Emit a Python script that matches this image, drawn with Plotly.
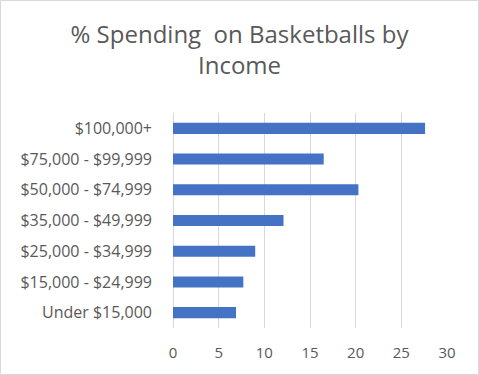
import plotly.graph_objects as go

categories = ["Under $15,000", "$15,000 - $24,999", "$25,000 - $34,999", "$35,000 - $49,999",
              "$50,000 - $74,999", "$75,000 - $99,999", "$100,000+"]
values = [6.9, 7.7, 9.0, 12.1, 20.3, 16.5, 27.6]
x_ticks = [0, 5, 10, 15, 20, 25, 30]
title_text = "% Spending  on Basketballs by<br>Income"

W, H = 479, 375
ml, mr, mt, mb = 173, 32, 113, 47
pw, ph = W - ml - mr, H - mt - mb

fig = go.Figure(go.Bar(
    x=values, y=categories, orientation="h",
    marker=dict(color="#4472c4", line=dict(width=0)),
    width=0.36,
))

fig.update_layout(
    width=W, height=H,
    margin=dict(l=ml, r=mr, t=mt, b=mb, pad=0),
    paper_bgcolor="white", plot_bgcolor="white",
    font=dict(family="Open Sans, Liberation Sans, sans-serif", color="#595959", size=14),
    title=dict(text=title_text, x=0.5, xanchor="center", yref="container", y=1 - 43 / H, yanchor="top",
               font=dict(size=24, color="#595959")),
    showlegend=False,
    shapes=[dict(type="rect", xref="paper", yref="paper",
                 x0=-ml / pw + 0.5 / pw, x1=1 + (mr - 0.5) / pw,
                 y0=-mb / ph + 0.5 / ph, y1=1 + (mt - 0.5) / ph,
                 line=dict(color="#d9d9d9", width=1), fillcolor="rgba(0,0,0,0)", layer="below")],
)
fig.update_xaxes(range=[0, 30], tickvals=x_ticks, showgrid=True, gridcolor="#d9d9d9", gridwidth=1.3,
                 zeroline=True, zerolinecolor="#d9d9d9", zerolinewidth=1.3, showline=False,
                 ticks="", tickfont=dict(size=15, color="#595959"), ticklabelstandoff=14)
fig.update_yaxes(showgrid=False, zeroline=False, showline=False, ticks="",
                 tickfont=dict(size=16, color="#595959"), ticklabelstandoff=20)

fig.write_html("out.html", config={"displayModeBar": False},
               post_script="document.body.style.margin='0';")
